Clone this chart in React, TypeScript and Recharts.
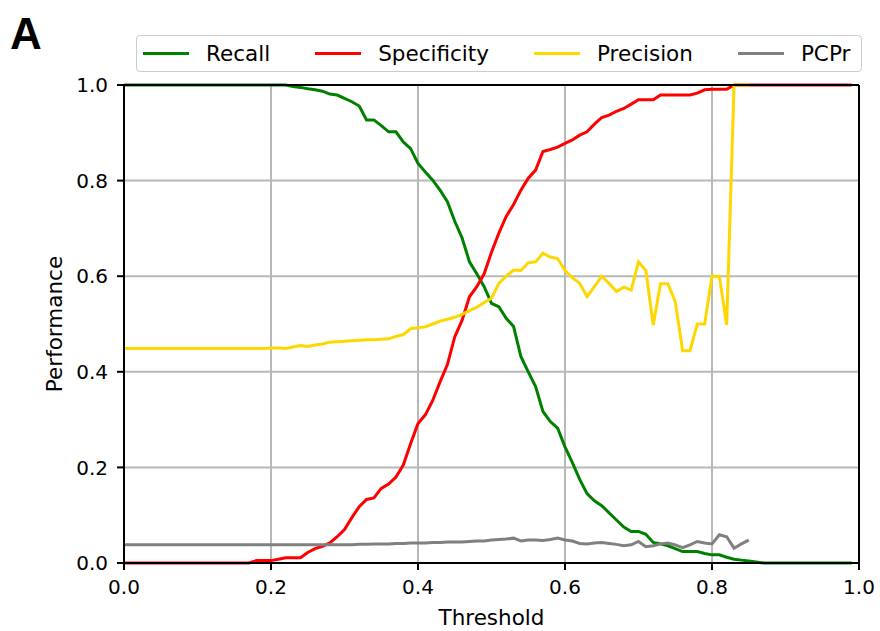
import {
  CartesianGrid,
  Line,
  LineChart,
  ReferenceLine,
  XAxis,
  YAxis,
} from "recharts";

// thresholds 0.00 .. 0.99
const thresholds = [
  0, 0.01, 0.02, 0.03, 0.04, 0.05, 0.06, 0.07, 0.08, 0.09,
  0.1, 0.11, 0.12, 0.13, 0.14, 0.15, 0.16, 0.17, 0.18, 0.19,
  0.2, 0.21, 0.22, 0.23, 0.24, 0.25, 0.26, 0.27, 0.28, 0.29,
  0.3, 0.31, 0.32, 0.33, 0.34, 0.35, 0.36, 0.37, 0.38, 0.39,
  0.4, 0.41, 0.42, 0.43, 0.44, 0.45, 0.46, 0.47, 0.48, 0.49,
  0.5, 0.51, 0.52, 0.53, 0.54, 0.55, 0.56, 0.57, 0.58, 0.59,
  0.6, 0.61, 0.62, 0.63, 0.64, 0.65, 0.66, 0.67, 0.68, 0.69,
  0.7, 0.71, 0.72, 0.73, 0.74, 0.75, 0.76, 0.77, 0.78, 0.79,
  0.8, 0.81, 0.82, 0.83, 0.84, 0.85, 0.86, 0.87, 0.88, 0.89,
  0.9, 0.91, 0.92, 0.93, 0.94, 0.95, 0.96, 0.97, 0.98, 0.99,
];

const recall = [
  1, 1, 1, 1, 1, 1, 1, 1, 1, 1,
  1, 1, 1, 1, 1, 1, 1, 1, 1, 1,
  1, 1, 1, 0.997, 0.995, 0.992, 0.99, 0.987, 0.981, 0.979,
  0.972, 0.965, 0.956, 0.927, 0.927, 0.915, 0.902, 0.902, 0.881, 0.867,
  0.836, 0.818, 0.801, 0.78, 0.756, 0.715, 0.68, 0.63, 0.605, 0.578,
  0.543, 0.536, 0.512, 0.495, 0.432, 0.4, 0.369, 0.317, 0.296, 0.282,
  0.243, 0.21, 0.175, 0.145, 0.13, 0.12, 0.105, 0.09, 0.075, 0.066,
  0.066, 0.06, 0.043, 0.04, 0.036, 0.03, 0.024, 0.024, 0.024, 0.02,
  0.017, 0.017, 0.012, 0.008, 0.006, 0.004, 0.002, 0, 0, 0,
  0, 0, 0, 0, 0, 0, 0, 0, 0, 0,
];

const specificity = [
  0, 0, 0, 0, 0, 0, 0, 0, 0, 0,
  0, 0, 0, 0, 0, 0, 0, 0, 0.005, 0.005,
  0.005, 0.008, 0.011, 0.011, 0.011, 0.022, 0.03, 0.035, 0.042, 0.055,
  0.07, 0.095, 0.118, 0.133, 0.136, 0.156, 0.165, 0.18, 0.205, 0.25,
  0.292, 0.31, 0.34, 0.379, 0.415, 0.473, 0.508, 0.557, 0.578, 0.605,
  0.65, 0.69, 0.725, 0.75, 0.78, 0.805, 0.822, 0.861, 0.865, 0.87,
  0.878, 0.885, 0.895, 0.902, 0.918, 0.932, 0.937, 0.945, 0.951, 0.96,
  0.969, 0.969, 0.969, 0.979, 0.979, 0.979, 0.979, 0.979, 0.983, 0.99,
  0.991, 0.991, 0.991, 1, 1, 1, 1, 1, 1, 1,
  1, 1, 1, 1, 1, 1, 1, 1, 1, 1,
];

const precision = [
  0.449, 0.449, 0.449, 0.449, 0.449, 0.449, 0.449, 0.449, 0.449, 0.449,
  0.449, 0.449, 0.449, 0.449, 0.449, 0.449, 0.449, 0.449, 0.449, 0.449,
  0.45, 0.45, 0.449, 0.452, 0.455, 0.453, 0.456, 0.458, 0.462, 0.463,
  0.464, 0.465, 0.466, 0.467, 0.467, 0.468, 0.469, 0.474, 0.478, 0.49,
  0.492, 0.494, 0.5, 0.506, 0.51, 0.514, 0.52, 0.528, 0.535, 0.545,
  0.554, 0.585, 0.6, 0.613, 0.612, 0.628, 0.63, 0.648, 0.64, 0.637,
  0.612, 0.597, 0.585, 0.557, 0.578, 0.6, 0.585, 0.568, 0.577, 0.571,
  0.63, 0.612, 0.498, 0.584, 0.584, 0.547, 0.444, 0.444, 0.5, 0.5,
  0.6, 0.6, 0.498, 1, 1, 1, null, null, null, null,
  null, null, null, null, null, null, null, null, null, null,
];

const pcpr = [
  0.038, 0.038, 0.038, 0.038, 0.038, 0.038, 0.038, 0.038, 0.038, 0.038,
  0.038, 0.038, 0.038, 0.038, 0.038, 0.038, 0.038, 0.038, 0.038, 0.038,
  0.038, 0.038, 0.038, 0.038, 0.038, 0.038, 0.038, 0.038, 0.038, 0.038,
  0.038, 0.038, 0.039, 0.039, 0.04, 0.04, 0.04, 0.041, 0.041, 0.042,
  0.042, 0.042, 0.043, 0.043, 0.044, 0.044, 0.044, 0.045, 0.046, 0.046,
  0.048, 0.049, 0.05, 0.052, 0.046, 0.048, 0.048, 0.047, 0.049, 0.052,
  0.048, 0.046, 0.041, 0.04, 0.042, 0.043, 0.041, 0.039, 0.036, 0.038,
  0.045, 0.034, 0.036, 0.04, 0.042, 0.038, 0.032, 0.038, 0.045, 0.042,
  0.04, 0.059, 0.055, 0.031, 0.04, 0.048, null, null, null, null,
  null, null, null, null, null, null, null, null, null, null,
];

const axisTicks = [0, 0.2, 0.4, 0.6, 0.8, 1];

const series = [
  { key: "recall", name: "Recall", color: "#008000" },
  { key: "specificity", name: "Specificity", color: "#ff0000" },
  { key: "precision", name: "Precision", color: "#ffd700" },
  { key: "pcpr", name: "PCPr", color: "#808080" },
];

const FONT = "'DejaVu Sans', sans-serif";

export default function App() {
  const data = thresholds.map((t, i) => ({
    t,
    recall: recall[i],
    specificity: specificity[i],
    precision: precision[i],
    pcpr: pcpr[i],
  }));

  const tickStyle = { fill: "#000", fontSize: 20, fontFamily: FONT };

  return (
    <div
      style={{
        position: "absolute",
        left: 0,
        top: 0,
        width: 880,
        height: 631,
        background: "#fff",
        fontFamily: FONT,
      }}
    >
      {/* panel letter */}
      <div
        style={{
          position: "absolute",
          left: 10,
          top: 9,
          fontSize: 44,
          fontWeight: "bold",
          lineHeight: "50px",
          fontFamily: "'Liberation Sans', Arial, sans-serif",
        }}
      >
        A
      </div>

      <LineChart
        width={880}
        height={631}
        data={data}
        margin={{ top: 85, right: 21, left: 0, bottom: 0 }}
      >
        <CartesianGrid stroke="#b8b8b8" strokeWidth={2} />
        <XAxis
          dataKey="t"
          type="number"
          domain={[0, 1]}
          ticks={axisTicks}
          tickFormatter={(v: number) => v.toFixed(1)}
          height={68}
          tickSize={7}
          tickMargin={10}
          tick={tickStyle}
          axisLine={{ stroke: "#000", strokeWidth: 2 }}
          tickLine={{ stroke: "#000", strokeWidth: 2 }}
          label={{
            value: "Threshold",
            position: "insideBottom",
            offset: 6,
            fill: "#000",
            fontSize: 21.5,
            fontFamily: FONT,
          }}
        />
        <YAxis
          type="number"
          domain={[0, 1]}
          ticks={axisTicks}
          tickFormatter={(v: number) => v.toFixed(1)}
          width={124}
          tickSize={7}
          tickMargin={9}
          tick={tickStyle}
          axisLine={{ stroke: "#000", strokeWidth: 2 }}
          tickLine={{ stroke: "#000", strokeWidth: 2 }}
          label={{
            value: "Performance",
            angle: -90,
            position: "insideLeft",
            offset: 54,
            fill: "#000",
            fontSize: 21.5,
            fontFamily: FONT,
            style: { textAnchor: "middle" },
          }}
        />
        {series.map((s) => (
          <Line
            key={s.key}
            type="linear"
            dataKey={s.key}
            name={s.name}
            stroke={s.color}
            strokeWidth={3}
            dot={false}
            activeDot={false}
            isAnimationActive={false}
          />
        ))}
        {/* close the box: top and right spines */}
        <ReferenceLine y={1} stroke="#000" strokeWidth={2} />
        <ReferenceLine x={1} stroke="#000" strokeWidth={2} />
      </LineChart>

      <div
        style={{
          position: "absolute",
          left: 136,
          top: 35,
          width: 726,
          height: 37,
          border: "1px solid #cccccc",
          borderRadius: 4,
          background: "rgba(255,255,255,0.85)",
          display: "flex",
          alignItems: "center",
          paddingLeft: 6,
          gap: 45,
          fontSize: 21.5,
          boxSizing: "border-box",
        }}
      >
        {series.map((s) => (
          <div key={s.key} style={{ display: "flex", alignItems: "center" }}>
            <div
              style={{
                width: 46,
                height: 3,
                background: s.color,
                marginRight: 17,
              }}
            />
            <span>{s.name}</span>
          </div>
        ))}
      </div>
    </div>
  );
}
